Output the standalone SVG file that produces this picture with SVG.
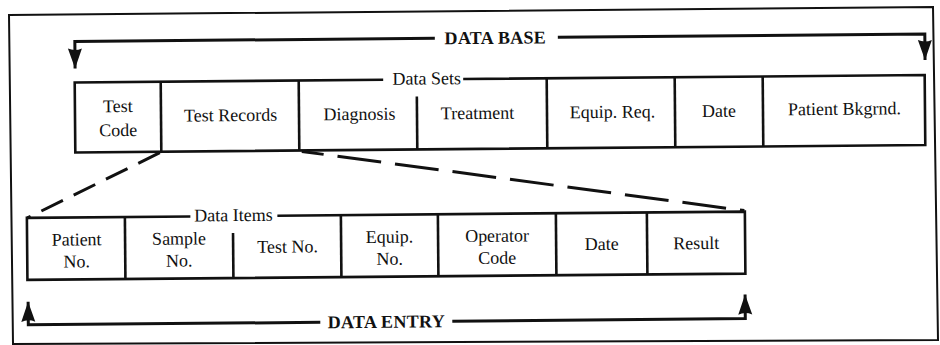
<svg xmlns="http://www.w3.org/2000/svg" width="940" height="345" viewBox="0 0 940 345">
  <style>
    .txt { font-family: "Liberation Serif", "Times New Roman", serif; font-size: 18px; fill: #111; text-anchor: middle; }
    .title { font-weight: bold; font-size: 18px; letter-spacing: 0.3px; }
    .row { fill: none; stroke: #111; stroke-width: 2.6; stroke-linejoin: miter; }
    .div { stroke: #111; stroke-width: 2.6; }
    .flow { fill: none; stroke: #111; stroke-width: 3; }
    .zoom { fill: none; stroke: #111; stroke-width: 3; }
  </style>
  <defs>
    <marker id="head" markerUnits="userSpaceOnUse" viewBox="-22 -9 24 18" refX="0" refY="0" markerWidth="24" markerHeight="18" orient="auto">
      <path d="M0,0 L-20,-7 Q-17,0 -20,7 Z" fill="#111"/>
    </marker>
  </defs>

  <rect width="940" height="345" fill="#fff"/>

  <!-- page border -->
  <polygon points="9,15 933,7 938,340 13,344" fill="none" stroke="#111" stroke-width="2"/>

  <g transform="rotate(-0.5 470 172)">
    <!-- data set row -->
    <g id="data-sets">
      <path class="row" d="M384,79 H75.5 V149 H925.5 V79 H464"/>
      <text class="txt" x="427.5" y="84">Data Sets</text>
    </g>
    <g id="set-test-code">
      <text class="txt" x="118.5" y="109">Test</text>
      <text class="txt" x="118.5" y="133">Code</text>
    </g>
    <g id="set-test-records">
      <line class="div" x1="161.5" y1="79" x2="161.5" y2="149"/>
      <text class="txt" x="231" y="119">Test Records</text>
    </g>
    <g id="set-diagnosis">
      <line class="div" x1="299.5" y1="79" x2="299.5" y2="149"/>
      <text class="txt" x="360" y="119">Diagnosis</text>
    </g>
    <g id="set-treatment">
      <line class="div" x1="417.5" y1="96" x2="417.5" y2="149"/>
      <text class="txt" x="478" y="119">Treatment</text>
    </g>
    <g id="set-equip-req">
      <line class="div" x1="547.5" y1="79" x2="547.5" y2="149"/>
      <text class="txt" x="613" y="119">Equip. Req.</text>
    </g>
    <g id="set-date">
      <line class="div" x1="675.5" y1="79" x2="675.5" y2="149"/>
      <text class="txt" x="719.5" y="119">Date</text>
    </g>
    <g id="set-patient-bkgrnd">
      <line class="div" x1="763.5" y1="79" x2="763.5" y2="149"/>
      <text class="txt" x="845" y="118">Patient Bkgrnd.</text>
    </g>

    <!-- data item row -->
    <g id="data-items">
      <path class="row" d="M190,214 H26.5 V276 H744.5 V214 H277"/>
      <text class="txt" x="233" y="219">Data Items</text>
    </g>
    <g id="item-patient-no">
      <text class="txt" x="76" y="242">Patient</text>
      <text class="txt" x="76" y="264">No.</text>
    </g>
    <g id="item-sample-no">
      <line class="div" x1="124.5" y1="214" x2="124.5" y2="276"/>
      <text class="txt" x="178.5" y="242">Sample</text>
      <text class="txt" x="178.5" y="264">No.</text>
    </g>
    <g id="item-test-no">
      <line class="div" x1="232.5" y1="231" x2="232.5" y2="276"/>
      <text class="txt" x="287" y="251">Test No.</text>
    </g>
    <g id="item-equip-no">
      <line class="div" x1="340.5" y1="214" x2="340.5" y2="276"/>
      <text class="txt" x="389" y="242">Equip.</text>
      <text class="txt" x="389" y="264">No.</text>
    </g>
    <g id="item-operator-code">
      <line class="div" x1="437.5" y1="214" x2="437.5" y2="276"/>
      <text class="txt" x="496.5" y="242">Operator</text>
      <text class="txt" x="496.5" y="264">Code</text>
    </g>
    <g id="item-date">
      <line class="div" x1="555.5" y1="214" x2="555.5" y2="276"/>
      <text class="txt" x="601" y="251">Date</text>
    </g>
    <g id="item-result">
      <line class="div" x1="646.5" y1="214" x2="646.5" y2="276"/>
      <text class="txt" x="695.5" y="251">Result</text>
    </g>

    <!-- connectors -->
    <g id="connectors">
      <!-- expansion of Test Records into its items -->
      <line class="zoom" x1="160" y1="150" x2="27" y2="214" stroke-dasharray="24 12"/>
      <line class="zoom" x1="302" y1="150" x2="744" y2="213" stroke-dasharray="22 14 44 14 44 14 44 14 44 14 44 14 44 14 44 14"/>

      <!-- DATA BASE span -->
      <path class="flow" d="M436,38 H76 V65" marker-end="url(#head)"/>
      <path class="flow" d="M559,38 H926 V64" marker-end="url(#head)"/>
      <text class="txt title" x="496.5" y="44">DATA BASE</text>

      <!-- DATA ENTRY span -->
      <path class="flow" d="M319,321 H27 V298" marker-end="url(#head)"/>
      <path class="flow" d="M451,321 H744 V297" marker-end="url(#head)"/>
      <text class="txt title" x="385" y="327">DATA ENTRY</text>
    </g>
  </g>
</svg>
